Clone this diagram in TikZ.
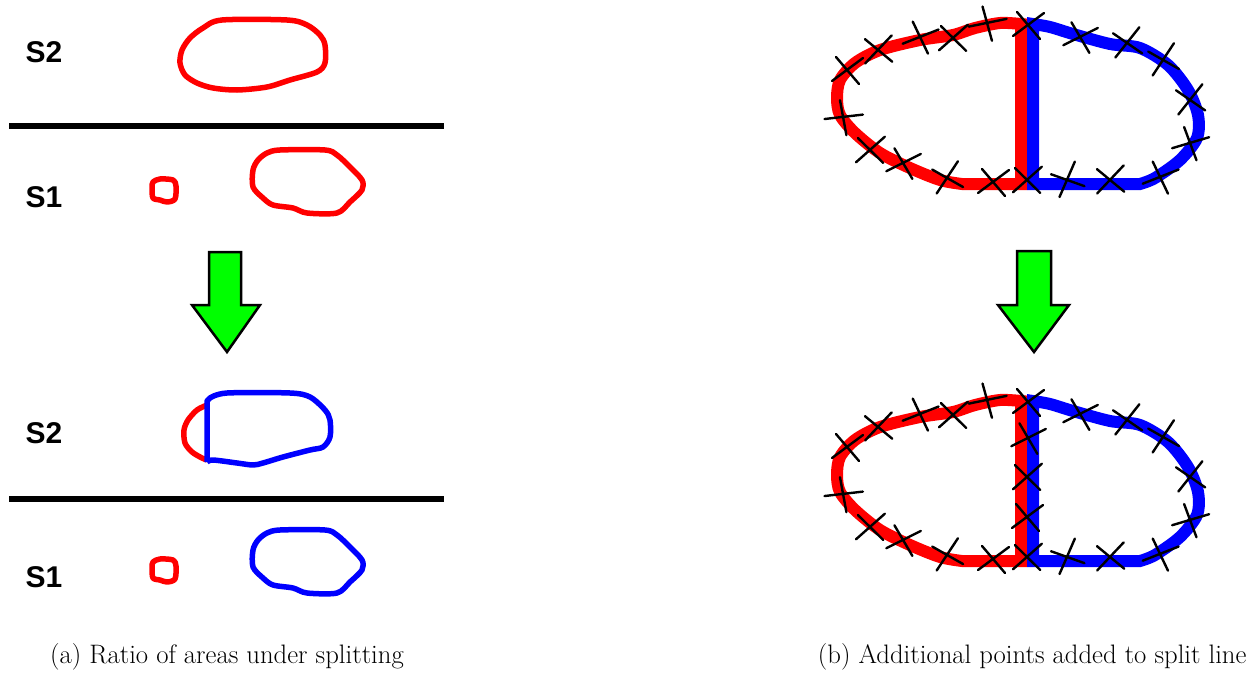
\documentclass[tikz,border=0pt]{standalone}
\usepackage{fontspec}
\newfontfamily\slabelfont{Liberation Sans}
\begin{document}
\begin{tikzpicture}[x=1pt,y=-1pt]
    \tikzstyle{slabel}=[font=\slabelfont\bfseries\fontsize{30}{30}\selectfont]
    \tikzstyle{caption}=[anchor=base,font=\fontsize{26.7}{31}\selectfont]
    \tikzstyle{blob}=[line width=5.5pt,line join=round]
    \tikzstyle{splitline}=[line width=12pt]
    \tikzstyle{cross}=[line width=2.4pt,line cap=round,black]
    \tikzstyle{bigarrow}=[draw=black,line width=2.5pt,fill=green]
    \tikzstyle{sep}=[line width=6pt]

    \useasboundingbox (0,0) rectangle (1253,677);

    % left: before splitting
    \node[slabel] at (44,52) (s2a) {S2};
    \node[slabel] at (44,197) (s1a) {S1};
    \draw[sep] (9,126) -- (444,126);
    \draw[blob,red] plot[smooth cycle] coordinates {(222,20) (287,20) (307,25) (320,35) (325,45) (325,63) (317,72) (290,80) (267,87) (237,90) (213,88) (197,83) (185,75) (180,63) (182,50) (190,38) (203,28)};
    \draw[blob,red] plot[smooth cycle] coordinates {(153,182) (160,179) (173,180) (176,186) (175,199) (167,202) (160,200) (153,198) (152,188)};
    \draw[blob,red] plot[smooth cycle] coordinates {(267,153) (280,150) (325,150) (337,155) (350,167) (362,180) (362,190) (350,202) (337,213) (307,213) (293,208) (273,205) (263,198) (253,187) (253,170) (258,160)};

    \draw[bigarrow] (209,252) -- (241,252) -- (241,305) -- (260,305) -- (227,352) -- (192,305) -- (209,305) -- cycle;

    % left: after splitting
    \node[slabel] at (44,433) (s2b) {S2};
    \node[slabel] at (44,577) (s1b) {S1};
    \draw[sep] (9,499) -- (444,499);
    \draw[blob,red] plot[smooth] coordinates {(207,405) (197,410) (188,420) (184,430) (185,443) (192,452) (202,458) (207,460)};
    \draw[blob,blue] (207,462) -- (207,401) -- plot[smooth] coordinates {(210,398) (227,393) (290,393) (310,397) (325,410) (330,420) (330,437) (323,447) (310,450) (283,457) (263,463) (253,465) (237,463) (213,460) (207,462)};
    \draw[blob,red] plot[smooth cycle] coordinates {(153,562) (160,559) (173,560) (176,566) (175,579) (167,582) (160,580) (153,578) (152,568)};
    \draw[blob,blue] plot[smooth cycle] coordinates {(267,533) (280,530) (325,530) (337,535) (350,547) (362,560) (362,570) (350,582) (337,593) (307,593) (293,588) (273,585) (263,578) (253,567) (253,550) (258,540)};

    % right: split line and its points
    \foreach \dy in {0,377} {
      \begin{scope}[shift={(0,\dy)}]
        \draw[splitline,red] plot[smooth] coordinates {(1021,24) (1000,23) (975,28) (953,35) (920,40) (880,50) (855,63) (840,80) (837,98) (840,115) (855,133) (880,153) (910,168) (940,180) (962,184)} -- (1021,184) -- cycle;
        \draw[splitline,blue] plot[smooth] coordinates {(1033,24) (1050,27) (1073,34) (1110,44) (1140,48) (1168,65) (1188,90) (1198,115) (1197,138) (1180,160) (1155,178) (1140,184)} -- (1033,184) -- cycle;
        \foreach \x/\y/\r in {847/70/0, 878/50/10, 920/37/-15, 953/38/5, 987/23/-25, 1028/25/0, 1080/37/-10, 1127/43/15, 1163/60/20, 1190/100/15, 1190/143/-20, 1160/177/-15, 1110/180/10, 1067/180/30, 1027/180/5, 993/182/0, 947/178/20, 903/163/-10, 870/150/5, 843/117/-30}
          \draw[cross,rotate around={\r:(\x,\y)}] (\x-15,\y+11) -- (\x+16,\y-12) (\x-11,\y-13) -- (\x+12,\y+14);
      \end{scope}
    }
    \foreach \x/\y/\r in {1028/438/-10, 1027/477/5, 1027/517/0}
      \draw[cross,rotate around={\r:(\x,\y)}] (\x-15,\y+11) -- (\x+16,\y-12) (\x-11,\y-13) -- (\x+12,\y+14);

    \draw[bigarrow] (1017,251) -- (1051,251) -- (1051,305) -- (1069,305) -- (1034,352) -- (998,305) -- (1017,305) -- cycle;

    \node[caption] at (227,663) (capa) {(a) Ratio of areas under splitting};
    \node[caption,anchor=base east] at (1250,663) (capb) {(b) Additional points added to split line};
\end{tikzpicture}
\end{document}
